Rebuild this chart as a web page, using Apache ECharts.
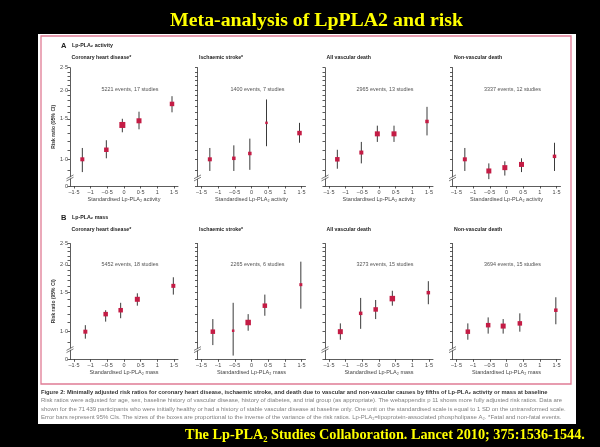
<!DOCTYPE html>
<html>
<head>
<meta charset="utf-8">
<script src="https://cdn.jsdelivr.net/npm/echarts@6.0.0/dist/echarts.min.js"></script>
<style>
html, body { margin: 0; padding: 0; background: #000; }
#chart { width: 600px; height: 447px; }
</style>
</head>
<body>
<div id="chart"></div>
<script>
// ticks and labels
var xTicks = [-1.5, -1, -0.5, 0, 0.5, 1, 1.5];
var yTicks = [0.9, 1.0, 1.1, 1.2, 1.3, 1.4, 1.5, 1.6, 1.7, 1.8, 1.9, 2.0, 2.1, 2.2, 2.3, 2.4, 2.5];
var yLabels = [1.0, 1.5, 2.0, 2.5];

// x position of the five fifths (standardised units)
var activityX = [-1.25, -0.53, -0.05, 0.45, 1.44];
var massX = [-1.16, -0.55, -0.10, 0.40, 1.48];

// A  Lp-PLA2 activity
var chdActRR = [1.00, 1.10, 1.41, 1.47, 1.74];
var chdActLo = [0.88, 1.01, 1.31, 1.35, 1.60];
var chdActHi = [1.12, 1.21, 1.50, 1.61, 1.88];
var chdActBox = [4, 4.5, 6, 5, 4.5];

var strokeActRR = [1.00, 1.01, 1.06, 1.44, 1.30];
var strokeActLo = [0.89, 0.89, 0.90, 1.14, 1.18];
var strokeActHi = [1.12, 1.15, 1.23, 1.82, 1.44];
var strokeActBox = [4, 3.5, 3.5, 2.5, 4.5];

var vascActRR = [1.00, 1.07, 1.29, 1.29, 1.46];
var vascActLo = [0.91, 0.96, 1.19, 1.19, 1.27];
var vascActHi = [1.10, 1.19, 1.40, 1.40, 1.69];
var vascActBox = [4.5, 4, 5, 5, 3.5];

var nonvascActRR = [1.00, 0.89, 0.92, 0.95, 1.03];
var nonvascActLo = [0.89, 0.82, 0.85, 0.88, 0.89];
var nonvascActHi = [1.12, 0.96, 0.98, 1.01, 1.18];
var nonvascActBox = [4, 5, 5, 5, 3.5];

// B  Lp-PLA2 mass
var chdMassRR = [1.00, 1.20, 1.25, 1.40, 1.61];
var chdMassLo = [0.93, 1.11, 1.15, 1.31, 1.47];
var chdMassHi = [1.07, 1.25, 1.35, 1.49, 1.76];
var chdMassBox = [4, 4.5, 4.5, 5, 4];

var strokeMassRR = [1.00, 1.01, 1.10, 1.31, 1.63];
var strokeMassLo = [0.87, 0.78, 1.01, 1.18, 1.27];
var strokeMassHi = [1.14, 1.35, 1.20, 1.47, 2.07];
var strokeMassBox = [4.5, 2.5, 5.5, 4.5, 3];

var vascMassRR = [1.00, 1.21, 1.26, 1.41, 1.50];
var vascMassLo = [0.92, 1.03, 1.14, 1.31, 1.33];
var vascMassHi = [1.09, 1.42, 1.39, 1.53, 1.69];
var vascMassBox = [5, 3.5, 4.5, 5.5, 3.5];

var nonvascMassRR = [1.00, 1.07, 1.06, 1.09, 1.25];
var nonvascMassLo = [0.92, 0.98, 0.98, 1.00, 1.08];
var nonvascMassHi = [1.09, 1.16, 1.14, 1.21, 1.43];
var nonvascMassBox = [4.5, 4.5, 5, 4.5, 3.5];

var outcomes = ['Coronary heart disease*', 'Ischaemic stroke*', 'All vascular death', 'Non-vascular death'];
var eventsActivity = ['5221 events, 17 studies', '1400 events, 7 studies', '2965 events, 13 studies', '3337 events, 12 studies'];
var eventsMass = ['5452 events, 18 studies', '2265 events, 6 studies', '3273 events, 15 studies', '3694 events, 15 studies'];

var captionLines = [
  'Figure 2: Minimally adjusted risk ratios for coronary heart disease, ischaemic stroke, and death due to vascular and non-vascular causes by fifths of Lp-PLA\u2082 activity or mass at baseline',
  'Risk ratios were adjusted for age, sex, baseline history of vascular disease, history of diabetes, and trial group (as appropriate). The webappendix p 11 shows more fully adjusted risk ratios. Data are',
  'shown for the 71\u2009439 participants who were initially healthy or had a history of stable vascular disease at baseline only. One unit on the standardised scale is equal to 1 SD on the untransformed scale.',
  'Error bars represent 95% CIs. The sizes of the boxes are proportional to the inverse of the variance of the risk ratios. Lp-PLA\u2082=lipoprotein-associated phospholipase A\u2082. *Fatal and non-fatal events.'
];

var SANS = '"Liberation Sans", Arial, sans-serif';
var SERIF = '"Liberation Serif", "Times New Roman", serif';

// panel layout
var colLeft = [70, 197.5, 325, 452.5];
var colWidth = 108;
var rowTop = [67.7, 243.5];
var rowHeight = [118.3, 115.8];
var rowMin = [-0.267, -0.287];   // ln scale position of the "0" below the break
var xMin = -1.62, xMax = 1.62;

var panels = [
  [activityX, chdActRR, chdActLo, chdActHi, chdActBox],
  [activityX, strokeActRR, strokeActLo, strokeActHi, strokeActBox],
  [activityX, vascActRR, vascActLo, vascActHi, vascActBox],
  [activityX, nonvascActRR, nonvascActLo, nonvascActHi, nonvascActBox],
  [massX, chdMassRR, chdMassLo, chdMassHi, chdMassBox],
  [massX, strokeMassRR, strokeMassLo, strokeMassHi, strokeMassBox],
  [massX, vascMassRR, vascMassLo, vascMassHi, vascMassBox],
  [massX, nonvascMassRR, nonvascMassLo, nonvascMassHi, nonvascMassBox]
];

var measureCtx = document.createElement('canvas').getContext('2d');
function fitSize(text, weight, family, target) {
  measureCtx.font = weight + ' 20px ' + family;
  return 20 * target / measureCtx.measureText(text).width;
}

function fmtX(v) {
  if (Math.abs(v) < 1e-9) return '0';
  return (v < 0 ? '\u2013' : '') + String(Math.abs(v)).replace('.', '\u00b7');
}

var grids = [], xAxes = [], yAxes = [], series = [], graphics = [];
var axisColor = '#333';

panels.forEach(function (p, i) {
  var row = Math.floor(i / 4), col = i % 4;
  var ymin = rowMin[row];
  grids.push({
    left: colLeft[col], top: rowTop[row], width: colWidth, height: rowHeight[row],
    containLabel: false, outerBoundsMode: 'none'
  });
  xAxes.push({
    type: 'value', gridIndex: i, min: xMin, max: xMax,
    axisLine: { onZero: false, lineStyle: { color: axisColor, width: 0.8 } },
    axisTick: { customValues: xTicks, length: 2.5, lineStyle: { color: axisColor, width: 0.8 } },
    axisLabel: { customValues: xTicks, formatter: fmtX, fontSize: 5.5, color: '#444', margin: 3, fontFamily: SANS },
    splitLine: { show: false },
    name: row === 0 ? 'Standardised Lp-PLA\u2082 activity' : 'Standardised Lp-PLA\u2082 mass',
    nameLocation: 'middle', nameGap: 10,
    nameTextStyle: { fontSize: 5.5, color: '#444', fontFamily: SANS }
  });
  yAxes.push({
    type: 'value', gridIndex: i, min: ymin, max: Math.log(2.5),
    axisLine: { onZero: false, lineStyle: { color: axisColor, width: 0.8 } },
    axisTick: { customValues: [ymin].concat(yTicks.map(Math.log)), length: 2.5, lineStyle: { color: axisColor, width: 0.8 } },
    axisLabel: {
      show: col === 0,
      customValues: [ymin].concat(yLabels.map(Math.log)),
      formatter: function (v) {
        if (v < ymin + 0.01) return '0';
        return Math.exp(v).toFixed(1).replace('.', '\u00b7');
      },
      fontSize: 5.5, color: '#444', margin: 2, fontFamily: SANS
    },
    splitLine: { show: false },
    name: col === 0 ? 'Risk ratio (95% CI)' : '',
    nameLocation: 'middle', nameGap: 12,
    nameTextStyle: { fontSize: 5, color: '#333', fontWeight: 'bold', fontFamily: SANS }
  });

  var xs = p[0], rr = p[1], lo = p[2], hi = p[3], box = p[4];
  series.push({
    type: 'custom', xAxisIndex: i, yAxisIndex: i, z: 2, silent: true,
    data: xs.map(function (x, k) { return [x, Math.log(lo[k]), Math.log(hi[k])]; }),
    encode: { x: 0, y: [1, 2] },
    renderItem: function (params, api) {
      var a = api.coord([api.value(0), api.value(1)]);
      var b = api.coord([api.value(0), api.value(2)]);
      return { type: 'line', shape: { x1: a[0], y1: a[1], x2: b[0], y2: b[1] },
               style: { stroke: '#3a3a3a', lineWidth: 1 } };
    }
  });
  series.push({
    type: 'scatter', xAxisIndex: i, yAxisIndex: i, z: 3, silent: true,
    symbol: 'rect',
    symbolSize: function (d) { return d[2]; },
    itemStyle: { color: '#c41c45', opacity: 1 },
    data: xs.map(function (x, k) { return [x, Math.log(rr[k]), box[k]]; })
  });
  // axis break marks
  series.push({
    type: 'scatter', xAxisIndex: i, yAxisIndex: i, z: 4, silent: true, clip: false,
    symbol: 'path://M0,5L8,0L8,3L0,8Z', symbolSize: [7, 6],
    itemStyle: { color: '#fff' },
    data: [[xMin, Math.log(0.83)]]
  });
  series.push({
    type: 'scatter', xAxisIndex: i, yAxisIndex: i, z: 5, silent: true, clip: false,
    symbol: 'path://M0,5L8,0M0,8L8,3', symbolSize: [7, 6],
    itemStyle: { color: 'none', borderColor: axisColor, borderWidth: 0.8 },
    data: [[xMin, Math.log(0.83)]]
  });

  // panel heading and events label
  graphics.push({
    type: 'text', z: 100,
    style: { text: outcomes[col], x: colLeft[col] + 1.5, y: row === 0 ? 57.3 : 229.5,
             fill: '#222', fontSize: 5.2, fontWeight: 'bold', fontFamily: SANS,
             verticalAlign: 'middle', textVerticalAlign: 'middle' }
  });
  graphics.push({
    type: 'text', z: 100,
    style: { text: (row === 0 ? eventsActivity : eventsMass)[col], x: colLeft[col] + 60, y: row === 0 ? 90 : 265,
             fill: '#555', fontSize: 5.4, fontFamily: SANS,
             align: 'center', textAlign: 'center', verticalAlign: 'middle', textVerticalAlign: 'middle' }
  });
});

// page frame
graphics.push({ type: 'rect', z: -10, shape: { x: 38, y: 34, width: 538, height: 390 }, style: { fill: '#fff' } });
graphics.push({ type: 'rect', z: -9, shape: { x: 41, y: 36, width: 530, height: 348 },
                style: { fill: 'none', stroke: '#e07c95', lineWidth: 1.3 } });

// section labels
[['A', 'Lp-PLA\u2082 activity', 46], ['B', 'Lp-PLA\u2082 mass', 218]].forEach(function (s) {
  graphics.push({ type: 'text', z: 100,
    style: { text: s[0], x: 61, y: s[2], fill: '#222', fontSize: 7.5, fontWeight: 'bold', fontFamily: SANS,
             verticalAlign: 'middle', textVerticalAlign: 'middle' } });
  graphics.push({ type: 'text', z: 100,
    style: { text: s[1], x: 72, y: s[2], fill: '#222', fontSize: 5.3, fontWeight: 'bold', fontFamily: SANS,
             verticalAlign: 'middle', textVerticalAlign: 'middle' } });
});

// caption
var capY = [392, 400.5, 409, 417.5];
var capW = [508, 522, 526, 522];
captionLines.forEach(function (t, k) {
  var w = k === 0 ? 'bold' : 'normal';
  graphics.push({ type: 'text', z: 100,
    style: { text: t, x: 41, y: capY[k], fill: k === 0 ? '#333' : '#808080',
             fontSize: fitSize(t, w, SANS, capW[k]), fontWeight: w, fontFamily: SANS,
             verticalAlign: 'middle', textVerticalAlign: 'middle' } });
});

// slide title and reference
var slideTitle = 'Meta-analysis of LpPLA2 and risk';
var slideRef = 'The Lp-PLA\u2082 Studies Collaboration. Lancet 2010; 375:1536-1544.';
graphics.push({ type: 'text', z: 100,
  style: { text: slideTitle, x: 316.5, y: 21, fill: '#ffff00',
           fontSize: fitSize(slideTitle, 'bold', SERIF, 293), fontWeight: 'bold', fontFamily: SERIF,
           align: 'center', textAlign: 'center', verticalAlign: 'middle', textVerticalAlign: 'middle' } });
graphics.push({ type: 'text', z: 100,
  style: { text: slideRef, x: 385, y: 435, fill: '#ffff00',
           fontSize: fitSize(slideRef, 'bold', SERIF, 400), fontWeight: 'bold', fontFamily: SERIF,
           align: 'center', textAlign: 'center', verticalAlign: 'middle', textVerticalAlign: 'middle' } });

var chart = echarts.init(document.getElementById('chart'));
chart.setOption({
  backgroundColor: '#000',
  animation: false,
  grid: grids,
  xAxis: xAxes,
  yAxis: yAxes,
  series: series,
  graphic: { elements: graphics }
});
</script>
</body>
</html>
